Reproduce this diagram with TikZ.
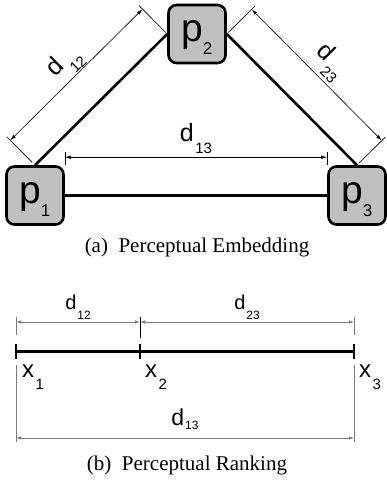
\documentclass[tikz,border=0pt]{standalone}
\usepackage{fontspec}
\setmainfont{Liberation Sans}
\newfontfamily\capfont{Liberation Serif}
\usetikzlibrary{calc,arrows.meta}
\definecolor{boxgray}{HTML}{C0C0C0}
\definecolor{dimgray}{HTML}{7A7A7A}
\newcommand{\plabel}[1]{{\fontsize{39}{39}\selectfont p}\kern-0.5pt\raisebox{-13pt}{\fontsize{17}{17}\selectfont #1}}
\newcommand{\dlabel}[1]{{\fontsize{25}{25}\selectfont d}\kern3pt\raisebox{-12pt}{\fontsize{15}{15}\selectfont #1}}
\newcommand{\dsmall}[1]{{\fontsize{20}{20}\selectfont d}\kern1pt\raisebox{-10pt}{\fontsize{12}{12}\selectfont #1}}
\newcommand{\dmid}[1]{{\fontsize{23}{23}\selectfont d}\kern1pt\raisebox{-4pt}{\fontsize{12}{12}\selectfont #1}}
\newcommand{\xlabel}[1]{{\fontsize{24}{24}\selectfont x}\kern1.5pt\raisebox{-12pt}{\fontsize{15}{15}\selectfont #1}}
\begin{document}
\begin{tikzpicture}[x=1pt,y=-1pt,
  box/.style={draw=black,line width=2.6pt,fill=boxgray,rounded corners=8pt,
    minimum width=57pt,minimum height=58pt,inner sep=0pt,text height=25pt,text depth=10pt},
  link/.style={line width=2.6pt},
  dimline/.style={line width=0.6pt,{Latex[length=6pt,width=3.5pt]}-{Latex[length=6pt,width=3.5pt]}},
  extline/.style={line width=0.6pt},
  gdimline/.style={draw=dimgray,line width=0.8pt,{Latex[length=5pt,width=3.5pt]}-{Latex[length=5pt,width=3.5pt]}},
  gextline/.style={draw=dimgray,line width=0.8pt},
  lbl/.style={inner sep=0pt},
  caption/.style={inner sep=0pt,anchor=base,font=\capfont\fontsize{21}{21}\selectfont}
]
\useasboundingbox (0,0) rectangle (386,481);

% ---------- (a) perceptual embedding ----------
\node[box] (p1) at (35,195.5) {\plabel{1}};
\node[box] (p2) at (197,34) {\plabel{2}};
\node[box] (p3) at (357,195.5) {\plabel{3}};

\draw[link] (p1.north) -- (p2.west);
\draw[link] (p2.east) -- (p3.north);
\draw[link] (p1.east) -- (p3.west);

% d12
\draw[extline] ($(p1.north)!4pt!90:(p2.west)$) -- ($(p1.north)!40pt!90:(p2.west)$);
\draw[extline] ($(p2.west)!2pt!-90:(p1.north)$) -- ($(p2.west)!40pt!-90:(p1.north)$);
\coordinate (a12) at ($(p1.north)!35pt!90:(p2.west)$);
\coordinate (b12) at ($(p2.west)!35pt!-90:(p1.north)$);
\draw[dimline] (a12) -- (b12);
\coordinate (m12) at ($(p1.north)!0.5!(p2.west)$);
\node[lbl,rotate=45] (l12) at ($(m12)!51pt!90:(p2.west)$) {\dlabel{12}};

% d23
\draw[extline] ($(p2.east)!2pt!90:(p3.north)$) -- ($(p2.east)!40pt!90:(p3.north)$);
\draw[extline] ($(p3.north)!3pt!-90:(p2.east)$) -- ($(p3.north)!40pt!-90:(p2.east)$);
\coordinate (a23) at ($(p2.east)!35pt!90:(p3.north)$);
\coordinate (b23) at ($(p3.north)!35pt!-90:(p2.east)$);
\draw[dimline] (a23) -- (b23);
\coordinate (m23) at ($(p2.east)!0.5!(p3.north)$);
\node[lbl,rotate=-45] (l23) at ($(m23)!53pt!90:(p3.north)$) {\dlabel{23}};

% d13
\coordinate (e1) at (p1.east |- p1.north);
\coordinate (e3) at (p3.west |- p3.north);
\draw[extline] (e1) -- ($(e1)+(0,-13)$);
\draw[extline] (e3) -- ($(e3)+(0,-13)$);
\coordinate (a13) at ($(e1)+(0,-8)$);
\coordinate (b13) at ($(e3)+(0,-8)$);
\draw[dimline] (a13) -- (b13);
\node[lbl] (l13) at ($(a13)!0.5!(b13)+(0,-19)$) {{\fontsize{25}{25}\selectfont d}\kern1.5pt\raisebox{-12pt}{\fontsize{15}{15}\selectfont 13}};

\node[caption] (capa) at (197,252) {(a)\ \ Perceptual Embedding};

% ---------- (b) perceptual ranking ----------
\coordinate (x1) at (16,351.5);
\coordinate (x2) at (140,351.5);
\coordinate (x3) at (354,351.5);
\draw[link] (x1) -- (x3);
\foreach \c in {x1,x2,x3}
  \draw[link] ($(\c)+(0,-7.5)$) -- ($(\c)+(0,7.5)$);

% upper dimensions
\draw[gextline] ($(x1)+(0,-35)$) -- ($(x1)+(0,-17)$);
\draw[draw=black,line width=0.6pt] ($(x2)+(0,-35)$) -- ($(x2)+(0,-14)$);
\draw[gextline] ($(x3)+(0,-35)$) -- ($(x3)+(0,-17)$);
\coordinate (u1) at ($(x1)+(0,-29.5)$);
\coordinate (u2) at ($(x2)+(0,-29.5)$);
\coordinate (u3) at ($(x3)+(0,-29.5)$);
\draw[gdimline] (u1) -- (u2);
\draw[gdimline] (u2) -- (u3);
\node[lbl] (r12) at ($(u1)!0.5!(u2)+(0,-15)$) {\dsmall{12}};
\node[lbl] (r23) at ($(u2)!0.5!(u3)+(0,-15)$) {\dsmall{23}};

% lower dimension
\draw[gextline] ($(x1)+(0,13.5)$) -- ($(x1)+(0,90)$);
\draw[gextline] ($(x3)+(0,13.5)$) -- ($(x3)+(0,90)$);
\coordinate (w1) at ($(x1)+(0,86.5)$);
\coordinate (w3) at ($(x3)+(0,86.5)$);
\draw[gdimline] (w1) -- (w3);
\node[lbl] (r13) at ($(w1)!0.5!(w3)+(0,-19)$) {\dmid{13}};

% point labels
\node[lbl,anchor=north west] (t1) at ($(x1)+(6,13)$) {\xlabel{1}};
\node[lbl,anchor=north west] (t2) at ($(x2)+(5,13)$) {\xlabel{2}};
\node[lbl,anchor=north west] (t3) at ($(x3)+(5,13)$) {\xlabel{3}};

\node[caption] (capb) at (187,470) {(b)\ \ Perceptual Ranking};
\end{tikzpicture}
\end{document}
